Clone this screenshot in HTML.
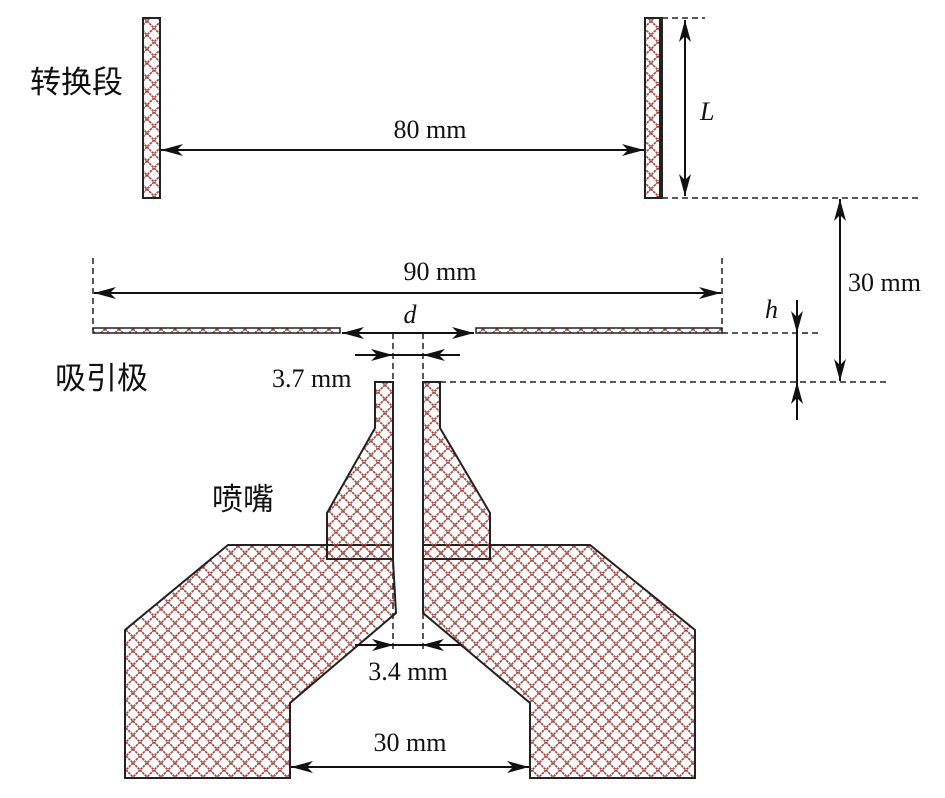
<!DOCTYPE html>
<html><head><meta charset="utf-8"><style>
html,body{margin:0;padding:0;background:#fff;}
svg{display:block;}
text{font-family:"Liberation Serif","Noto Serif CJK SC",serif;font-size:26px;fill:#111;}
.cj{font-family:"Liberation Sans","Noto Sans CJK SC",sans-serif;font-size:31px;}
</style></head><body>
<svg width="945" height="798" viewBox="0 0 945 798" xmlns="http://www.w3.org/2000/svg">
<defs>
<pattern id="h" width="14" height="14" patternUnits="userSpaceOnUse">
<path d="M0 0L14 14M14 0L0 14" stroke="#a5463f" stroke-width="1.7" stroke-dasharray="2.5 0.8"/>
</pattern>
<marker id="a" viewBox="0 0 22 12" refX="22" refY="6" markerWidth="22" markerHeight="12" markerUnits="userSpaceOnUse" orient="auto-start-reverse">
<path d="M0 0L22 6L0 12L6 6Z" fill="#111"/>
</marker>
</defs>
<g stroke="#222" stroke-width="2" fill="url(#h)">
<rect x="143" y="18" width="17" height="180"/>
<rect x="645" y="18" width="17" height="180"/>
<line x1="660" y1="18" x2="660" y2="198"/>
<rect x="93" y="328" width="247" height="5" stroke-width="1.5"/>
<rect x="476" y="328" width="246" height="5" stroke-width="1.5"/>
<polygon points="228,545 393,545 393,560 396,613 290,703 290,778 125,778 125,630"/>
<polygon points="423,545 590,545 695,630 695,778 530,778 530,703 423,613"/>
<polygon points="375,382 393,382 393,559 327,559 327,513 375,428"/>
<polygon points="423,382 440,382 440,428 490,513 490,559 423,559"/>
</g>
<g stroke="#222" stroke-width="1.5" stroke-dasharray="6 4" fill="none">
<line x1="662" y1="18" x2="705" y2="18"/>
<line x1="662" y1="198" x2="920" y2="198"/>
<line x1="93" y1="258" x2="93" y2="330"/>
<line x1="722" y1="258" x2="722" y2="330"/>
<line x1="722" y1="333" x2="822" y2="333"/>
<line x1="440" y1="382" x2="890" y2="382"/>
<line x1="393" y1="333" x2="393" y2="650"/>
<line x1="423" y1="333" x2="423" y2="650"/>
</g>
<g stroke="#111" stroke-width="2" fill="none">
<line x1="685" y1="20" x2="685" y2="196" marker-start="url(#a)" marker-end="url(#a)"/>
<line x1="161" y1="150" x2="644" y2="150" marker-start="url(#a)" marker-end="url(#a)"/>
<line x1="840" y1="199" x2="840" y2="381" marker-start="url(#a)" marker-end="url(#a)"/>
<line x1="94" y1="293" x2="721" y2="293" marker-start="url(#a)" marker-end="url(#a)"/>
<line x1="342" y1="333" x2="474" y2="333" marker-start="url(#a)" marker-end="url(#a)"/>
<line x1="355" y1="355" x2="393" y2="355" marker-end="url(#a)"/>
<line x1="460" y1="355" x2="423" y2="355" marker-end="url(#a)"/>
<line x1="393" y1="355" x2="423" y2="355"/>
<line x1="797" y1="300" x2="797" y2="333" marker-end="url(#a)"/>
<line x1="797" y1="420" x2="797" y2="382" marker-end="url(#a)"/>
<line x1="797" y1="333" x2="797" y2="382"/>
<line x1="355" y1="645" x2="394" y2="645" marker-end="url(#a)"/>
<line x1="462" y1="645" x2="422" y2="645" marker-end="url(#a)"/>
<line x1="394" y1="645" x2="422" y2="645"/>
<line x1="291" y1="767" x2="529" y2="767" marker-start="url(#a)" marker-end="url(#a)"/>
</g>
<text x="700" y="120" font-style="italic">L</text>
<text x="430" y="138" text-anchor="middle">80 mm</text>
<text x="848" y="291">30 mm</text>
<text x="440" y="280" text-anchor="middle">90 mm</text>
<text x="410" y="323" text-anchor="middle" font-style="italic">d</text>
<text x="765" y="318" font-style="italic">h</text>
<text x="272" y="387">3.7 mm</text>
<text x="408" y="680" text-anchor="middle">3.4 mm</text>
<text x="410" y="751" text-anchor="middle">30 mm</text>
<text class="cj" x="30" y="93">转换段</text>
<text class="cj" x="55" y="389">吸引极</text>
<text class="cj" x="212" y="510">喷嘴</text>
</svg>
</body></html>
